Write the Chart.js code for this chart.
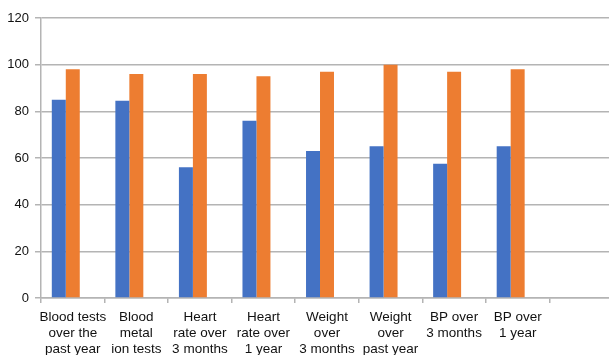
<!DOCTYPE html>
<html>
<head>
<meta charset="utf-8">
<script src="https://cdn.jsdelivr.net/npm/chart.js@4.4.1/dist/chart.umd.min.js"></script>
<style>
  html, body { margin: 0; padding: 0; background: #fff; overflow: hidden; }
  #wrap { width: 613px; height: 355px; }
</style>
</head>
<body>
<div id="wrap"><canvas id="chart" width="613" height="355"></canvas></div>
<script>
// categories (last slot is empty in the original)
const categories = [
    ['Blood tests', 'over the', 'past year'],
    ['Blood', 'metal', 'ion tests'],
    ['Heart', 'rate over', '3 months'],
    ['Heart', 'rate over', '1 year'],
    ['Weight', 'over', '3 months'],
    ['Weight', 'over', 'past year'],
    ['BP over', '3 months'],
    ['BP over', '1 year'],
    ''
];
const blueValues = [85, 84.5, 56, 76, 63, 65, 57.5, 65, null];
const orangeValues = [98, 96, 96, 95, 97, 100, 97, 98, null];
const emptyValues = [null, null, null, null, null, null, null, null, null];
const yTicks = [0, 20, 40, 60, 80, 100, 120];

const gridColor = '#b4b4b4';

const ctx = document.querySelector('#chart').getContext('2d');
new Chart(ctx, {
    type: 'bar',
    data: {
        labels: categories,
        datasets: [
            { data: blueValues, backgroundColor: '#4472c4' },
            { data: orangeValues, backgroundColor: '#ed7d31' },
            { data: emptyValues, backgroundColor: 'rgba(0,0,0,0)' }
        ]
    },
    options: {
        responsive: false,
        animation: false,
        categoryPercentage: 0.66,
        barPercentage: 1,
        layout: { padding: { top: 18, right: 0, left: 0, bottom: 0 } },
        plugins: {
            legend: { display: false },
            tooltip: { enabled: false }
        },
        scales: {
            x: {
                grid: {
                    drawOnChartArea: false,
                    color: gridColor,
                    lineWidth: 1.5,
                    tickLength: 5
                },
                border: { color: gridColor, width: 1.5 },
                ticks: {
                    color: '#111',
                    font: { family: 'Liberation Sans', size: 13.5, lineHeight: 1.2 },
                    padding: 6,
                    maxRotation: 0,
                    autoSkip: false
                },
                afterFit: scale => { scale.height = 57; }
            },
            y: {
                min: 0,
                max: 120,
                afterBuildTicks: scale => { scale.ticks = yTicks.map(v => ({ value: v })); },
                grid: {
                    color: gridColor,
                    lineWidth: 1.5,
                    tickLength: 6
                },
                border: { color: gridColor, width: 1.5 },
                ticks: {
                    color: '#111',
                    font: { family: 'Liberation Sans', size: 13 },
                    padding: 6
                },
                afterFit: scale => { scale.width = 41; }
            }
        }
    }
});
</script>
</body>
</html>
